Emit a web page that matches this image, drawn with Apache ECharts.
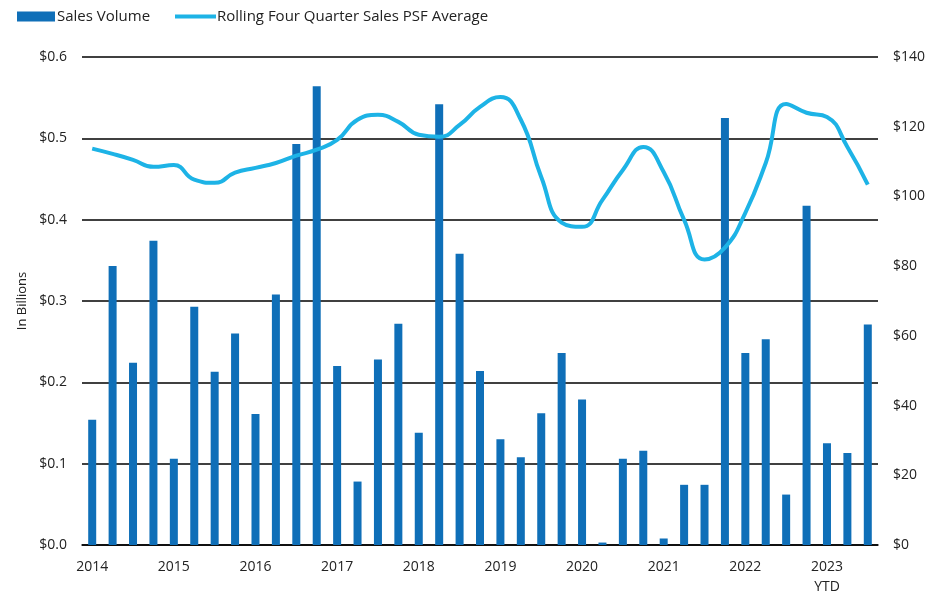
<!DOCTYPE html>
<html>
<head>
<meta charset="utf-8">
<script src="https://cdn.jsdelivr.net/npm/echarts@6/dist/echarts.min.js"></script>
<style>
html,body{margin:0;padding:0;background:#fff;}
#main{width:941px;height:597px;}
</style>
</head>
<body>
<div id="main"></div>
<script>
// quarters 2014 Q1 .. 2023 Q3
var quarters = [
 '2014 Q1','2014 Q2','2014 Q3','2014 Q4',
 '2015 Q1','2015 Q2','2015 Q3','2015 Q4',
 '2016 Q1','2016 Q2','2016 Q3','2016 Q4',
 '2017 Q1','2017 Q2','2017 Q3','2017 Q4',
 '2018 Q1','2018 Q2','2018 Q3','2018 Q4',
 '2019 Q1','2019 Q2','2019 Q3','2019 Q4',
 '2020 Q1','2020 Q2','2020 Q3','2020 Q4',
 '2021 Q1','2021 Q2','2021 Q3','2021 Q4',
 '2022 Q1','2022 Q2','2022 Q3','2022 Q4',
 '2023 Q1','2023 Q2','2023 Q3'
];
var yearLabels = ['2014','2015','2016','2017','2018','2019','2020','2021','2022','2023\nYTD'];

// sales volume, in billions
var salesVolume = [
 0.154,0.343,0.224,0.374,
 0.106,0.293,0.213,0.260,
 0.161,0.308,0.493,0.564,
 0.220,0.078,0.228,0.272,
 0.138,0.542,0.358,0.214,
 0.130,0.108,0.162,0.236,
 0.179,0.003,0.106,0.116,
 0.008,0.074,0.074,0.525,
 0.236,0.253,0.062,0.417,
 0.125,0.113,0.271
];

// rolling four quarter sales PSF average, $
var psfAvg = [
 113.7,112.2,110.5,108.5,
 109.0,104.8,103.9,106.8,
 108.2,109.6,111.7,113.4,
 116.2,122.0,123.4,121.4,
 117.7,117.1,120.5,125.7,
 128.5,122.0,105.6,92.5,
 91.3,99.0,107.6,114.2,
 107.0,93.3,81.9,85.3,
 95.3,109.6,126.5,124.0,
 122.8,114.2,103.4
];

var leftTicks = [0, 0.6, 0.1];   // min, max, interval
var rightTicks = [0, 140, 20];

var font = '"Open Sans", "Noto Sans", sans-serif';
var myChart = echarts.init(document.getElementById('main'));
var option = {
  animation:false,
  textStyle:{fontFamily:font},
  legend:[
    {                                   //柱子图例
      left:12,
      top:4,
      itemWidth:38,
      itemHeight:10,
      icon:'rect',
      textStyle:{fontSize:15,color:'#222',fontFamily:font,padding:[0,0,0,-3]},
      data:['Sales Volume']
    },
    {                                   //折线图例
      left:170,
      top:4,
      itemWidth:41,
      itemHeight:4,
      icon:'rect',
      textStyle:{fontSize:15,color:'#222',fontFamily:font,padding:[0,0,0,-4]},
      data:['Rolling Four Quarter Sales PSF Average']
    }
  ],
  grid:{left:82,right:63,top:57,bottom:51},
  xAxis:{
    type:'category',
    data:quarters,
    axisTick:{show:false},
    axisLine:{lineStyle:{color:'#000',width:1.5}},
    axisLabel:{
      interval:0,
      fontSize:14,
      color:'#222',
      margin:12,
      lineHeight:20,
      formatter:function(v,i){
        return i%4===0 ? yearLabels[i/4] : '';
      }
    }
  },
  yAxis:[
    {
      type:'value',
      min:leftTicks[0],
      max:leftTicks[1],
      interval:leftTicks[2],
      name:'In Billions',
      nameLocation:'middle',
      nameGap:52,
      nameTextStyle:{fontSize:13,color:'#222'},
      axisLine:{show:false},
      axisTick:{show:false},
      axisLabel:{fontSize:14,color:'#222',margin:15,formatter:function(v){return '$'+v.toFixed(1);}},
      splitLine:{lineStyle:{color:'#000',width:1.5}}
    },
    {
      type:'value',
      min:rightTicks[0],
      max:rightTicks[1],
      interval:rightTicks[2],
      axisLine:{show:false},
      axisTick:{show:false},
      axisLabel:{fontSize:14,color:'#222',margin:15,formatter:function(v){return '$'+v;}},
      splitLine:{show:false}
    }
  ],
  series:[
    {
      name:'Sales Volume',
      type:'bar',
      barWidth:8,
      data:salesVolume,
      itemStyle:{color:'#0f6fb8'}
    },
    {
      name:'Rolling Four Quarter Sales PSF Average',
      type:'line',
      yAxisIndex:1,
      smooth:0.5,
      symbol:'none',
      data:psfAvg,
      lineStyle:{color:'#1db3e6',width:4},
      itemStyle:{color:'#1db3e6'}
    }
  ]
};
myChart.setOption(option);
</script>
</body>
</html>
